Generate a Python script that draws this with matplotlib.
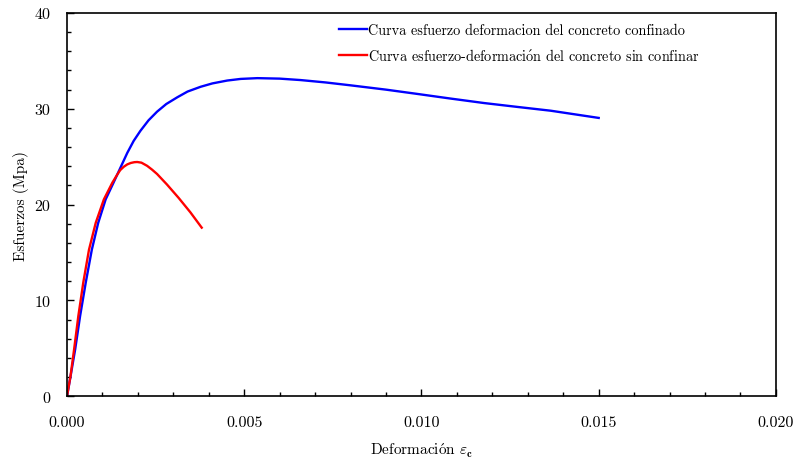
import matplotlib
matplotlib.use("Agg")
import matplotlib.pyplot as plt
from matplotlib.ticker import MultipleLocator, FormatStrFormatter

plt.rcParams['font.family'] = ['cmr10', 'DejaVu Serif']
plt.rcParams['mathtext.fontset'] = 'cm'
plt.rcParams['axes.formatter.use_mathtext'] = True

# confined concrete curve
def_conf = [0.0, 0.0001, 0.00023, 0.00037, 0.00053, 0.0007, 0.00088, 0.00109,
            0.0013, 0.00145, 0.0016, 0.0017, 0.00188, 0.00207, 0.0023,
            0.00254, 0.0028, 0.00311, 0.0034, 0.00377, 0.0041, 0.00452,
            0.0049, 0.00537, 0.0060, 0.00659, 0.0073, 0.0080, 0.0090,
            0.00989, 0.0108, 0.01177, 0.0127, 0.01365, 0.0150]
esf_conf = [0.0, 2.1, 4.9, 8.4, 11.9, 15.3, 18.1, 20.55,
            22.2, 23.4, 24.6, 25.4, 26.65, 27.7, 28.8,
            29.7, 30.5, 31.2, 31.8, 32.3, 32.65, 32.95,
            33.12, 33.2, 33.15, 33.0, 32.75, 32.45, 32.0,
            31.55, 31.08, 30.6, 30.2, 29.8, 29.05]

# unconfined concrete curve
def_sin = [0.0, 0.0001, 0.0002, 0.00032, 0.00046, 0.00062, 0.00081, 0.00104,
           0.00128, 0.00142, 0.0015, 0.0016, 0.0017, 0.0018, 0.0019, 0.00198,
           0.0021, 0.00226, 0.0024, 0.00254, 0.00282, 0.00315, 0.00348, 0.0038]
esf_sin = [0.0, 2.15, 4.9, 8.4, 11.9, 15.3, 18.1, 20.55,
           22.3, 23.15, 23.6, 23.95, 24.2, 24.35, 24.43, 24.45,
           24.38, 24.05, 23.65, 23.2, 22.1, 20.7, 19.2, 17.6]

lbl_conf = "Curva esfuerzo deformacion del concreto confinado"
lbl_sin = r"Curva esfuerzo-deformaci$\mathrm{\acute{o}}$n del concreto sin confinar"

fig = plt.figure(figsize=(7.95, 4.6), dpi=100)
ax = fig.add_axes([0.0843, 0.1363, 0.8917, 0.8333])

ax.plot(def_conf, esf_conf, color='#0000ff', lw=1.7, label=lbl_conf,
        solid_joinstyle='round')
ax.plot(def_sin, esf_sin, color='#ff0000', lw=1.7, label=lbl_sin,
        solid_joinstyle='round')

ax.set_xlim(0, 0.02)
ax.set_ylim(0, 40)
ax.xaxis.set_major_locator(MultipleLocator(0.005))
ax.xaxis.set_minor_locator(MultipleLocator(0.001))
ax.yaxis.set_major_locator(MultipleLocator(10))
ax.yaxis.set_minor_locator(MultipleLocator(2))
ax.xaxis.set_major_formatter(FormatStrFormatter('%.3f'))
ax.yaxis.set_major_formatter(FormatStrFormatter('%d'))
ax.tick_params(which='both', direction='in', labelsize=11.5, width=1)
ax.tick_params(which='major', length=5)
ax.tick_params(which='minor', length=3)
ax.tick_params(axis='x', pad=14)
ax.tick_params(axis='y', pad=12)
for s in ax.spines.values():
    s.set_linewidth(1.2)

ax.set_xlabel(r"Deformaci$\mathrm{\acute{o}}$n $\boldsymbol{\varepsilon}_\mathbf{c}$",
              fontsize=11, labelpad=8)
ax.set_ylabel("Esfuerzos (Mpa)", fontsize=11, labelpad=4)

ax.legend(loc='upper left', bbox_to_anchor=(0.375, 0.988), frameon=False,
          fontsize=10.25, handlelength=2.0, handletextpad=0.1, borderaxespad=0,
          labelspacing=0.68)

fig.savefig("out.png", dpi=100)
